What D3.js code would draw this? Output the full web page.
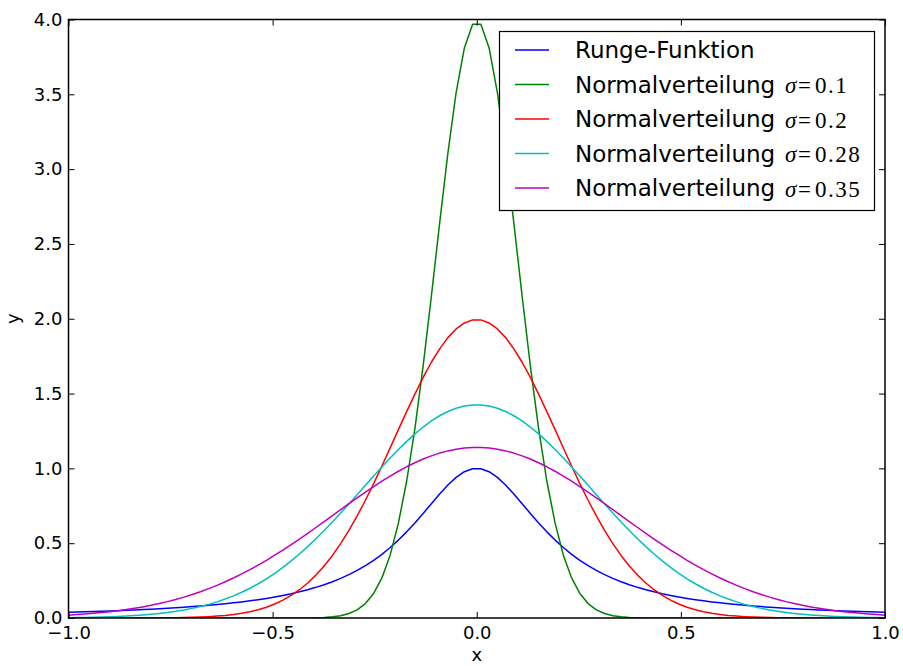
<!DOCTYPE html>
<html>
<head>
<meta charset="utf-8">
<script src="https://cdn.jsdelivr.net/npm/d3@7"></script>
<style>
  html, body { margin: 0; padding: 0; background: #fff; }
  svg { display: block; }
  text { font-family: "DejaVu Sans", sans-serif; fill: #000; }
</style>
</head>
<body>
<svg id="chart" width="903" height="666"></svg>
<script>
// Sampling grid: 100 evenly spaced points on [-1, 1]
const xs = d3.range(100).map(i => -1 + 2 * i / 99);

const runge = [
0.0385,0.0400,0.0416,0.0434,0.0452,0.0472,0.0492,0.0515,0.0538,0.0564,
0.0591,0.0620,0.0652,0.0685,0.0722,0.0761,0.0803,0.0849,0.0899,0.0953,
0.1012,0.1077,0.1147,0.1224,0.1309,0.1404,0.1508,0.1622,0.1749,0.1891,
0.2049,0.2227,0.2426,0.2647,0.2899,0.3183,0.3497,0.3857,0.4255,0.4710,
0.5208,0.5757,0.6353,0.6988,0.7640,0.8288,0.8889,0.9400,0.9776,0.9975,
0.9975,0.9776,0.9400,0.8889,0.8288,0.7640,0.6988,0.6353,0.5757,0.5208,
0.4710,0.4255,0.3857,0.3497,0.3183,0.2899,0.2647,0.2426,0.2227,0.2049,
0.1891,0.1749,0.1622,0.1508,0.1404,0.1309,0.1224,0.1147,0.1077,0.1012,
0.0953,0.0899,0.0849,0.0803,0.0761,0.0722,0.0685,0.0652,0.0620,0.0591,
0.0564,0.0538,0.0515,0.0492,0.0472,0.0452,0.0434,0.0416,0.0400,0.0385
];

const normal01 = [
0,0,0,0,0,0,0,0,0,0,
0,0,0,0,0,0,0,0,0,0,
0,0,0,0,0,0,0,0.0001,0.0003,0.0008,
0.0017,0.0037,0.0077,0.0154,0.0297,0.0547,0.0967,0.164,0.268,0.420,
0.634,0.914,1.266,1.685,2.152,2.639,3.107,3.512,3.810,3.969,
3.969,3.810,3.512,3.107,2.639,2.152,1.685,1.266,0.914,0.634,
0.420,0.268,0.164,0.0967,0.0547,0.0297,0.0154,0.0077,0.0037,0.0017,
0.0008,0.0003,0.0001,0,0,0,0,0,0,0,
0,0,0,0,0,0,0,0,0,0,
0,0,0,0,0,0,0,0,0,0
];

const normal02 = [
0,0,0,0,0.0001,0.0001,0.0001,0.0002,0.0003,0.0005,
0.0007,0.0010,0.0015,0.0022,0.0032,0.0046,0.0065,0.0091,0.0126,0.0173,
0.0235,0.0316,0.0421,0.0555,0.0723,0.0934,0.1193,0.1507,0.1889,0.2338,
0.2866,0.3480,0.4181,0.4975,0.5861,0.6826,0.7871,0.8984,1.0157,1.1366,
1.2593,1.3795,1.4962,1.6079,1.7093,1.7990,1.8738,1.9321,1.9720,1.9922,
1.9922,1.9720,1.9321,1.8738,1.7990,1.7093,1.6079,1.4962,1.3795,1.2593,
1.1366,1.0157,0.8984,0.7871,0.6826,0.5861,0.4975,0.4181,0.3480,0.2866,
0.2338,0.1889,0.1507,0.1193,0.0934,0.0723,0.0555,0.0421,0.0316,0.0235,
0.0173,0.0126,0.0091,0.0065,0.0046,0.0032,0.0022,0.0015,0.0010,0.0007,
0.0005,0.0003,0.0002,0.0001,0.0001,0.0001,0,0,0,0
];

const normal028 = [
0.0024,0.0031,0.0040,0.0051,0.0065,0.0082,0.0103,0.0129,0.0161,0.0199,
0.0245,0.0300,0.0366,0.0444,0.0536,0.0643,0.0767,0.0911,0.1076,0.1265,
0.1479,0.1720,0.1989,0.2290,0.2622,0.2988,0.3385,0.3814,0.4279,0.4772,
0.5295,0.5845,0.6420,0.7014,0.7627,0.8244,0.8865,0.9485,1.0096,1.0693,
1.1267,1.1805,1.2305,1.2763,1.3168,1.3517,1.3801,1.4019,1.4165,1.4239,
1.4239,1.4165,1.4019,1.3801,1.3517,1.3168,1.2763,1.2305,1.1805,1.1267,
1.0693,1.0096,0.9485,0.8865,0.8244,0.7627,0.7014,0.6420,0.5845,0.5295,
0.4772,0.4279,0.3814,0.3385,0.2988,0.2622,0.2290,0.1989,0.1720,0.1479,
0.1265,0.1076,0.0911,0.0767,0.0643,0.0536,0.0444,0.0366,0.0300,0.0245,
0.0199,0.0161,0.0129,0.0103,0.0082,0.0065,0.0051,0.0040,0.0031,0.0024
];

const normal035 = [
0.0192,0.0227,0.0266,0.0311,0.0362,0.0421,0.0488,0.0562,0.0647,0.0742,
0.0847,0.0965,0.1095,0.1239,0.1397,0.1569,0.1757,0.1962,0.2183,0.2420,
0.2674,0.2947,0.3234,0.3538,0.3858,0.4195,0.4544,0.4905,0.5279,0.5660,
0.6049,0.6444,0.6843,0.7242,0.7640,0.8030,0.8413,0.8785,0.9144,0.9486,
0.9808,1.0106,1.0377,1.0623,1.0837,1.1021,1.1168,1.1281,1.1355,1.1393,
1.1393,1.1355,1.1281,1.1168,1.1021,1.0837,1.0623,1.0377,1.0106,0.9808,
0.9486,0.9144,0.8785,0.8413,0.8030,0.7640,0.7242,0.6843,0.6444,0.6049,
0.5660,0.5279,0.4905,0.4544,0.4195,0.3858,0.3538,0.3234,0.2947,0.2674,
0.2420,0.2183,0.1962,0.1757,0.1569,0.1397,0.1239,0.1095,0.0965,0.0847,
0.0742,0.0647,0.0562,0.0488,0.0421,0.0362,0.0311,0.0266,0.0227,0.0192
];

const seriesNames = ["Runge-Funktion", "Normalverteilung", "Normalverteilung", "Normalverteilung", "Normalverteilung"];
const seriesSigma = [null, "0.1", "0.2", "0.28", "0.35"];
const seriesValues = [runge, normal01, normal02, normal028, normal035];
const seriesColors = ["#0000ff", "#008000", "#ff0000", "#00bfbf", "#bf00bf"];

const xTicks = [-1.0, -0.5, 0.0, 0.5, 1.0];
const yTicks = [0.0, 0.5, 1.0, 1.5, 2.0, 2.5, 3.0, 3.5, 4.0];

(function draw() {
  const svg = d3.select("#chart");
  const pLeft = 68.5, pRight = 885, pTop = 19.5, pBottom = 618;

  const x = d3.scaleLinear().domain([-1, 1]).range([pLeft, pRight]);
  const y = d3.scaleLinear().domain([0, 4]).range([pBottom, pTop]);

  const fmt = v => d3.format(".1f")(v).replace("-", "\u2212");

  // Clip the curves to the axes rectangle
  svg.append("defs").append("clipPath").attr("id", "plot-clip")
    .append("rect").attr("x", pLeft).attr("y", pTop)
    .attr("width", pRight - pLeft).attr("height", pBottom - pTop);

  const line = d3.line().x((d, i) => x(xs[i])).y(d => y(d));

  const curves = svg.append("g").attr("clip-path", "url(#plot-clip)");
  seriesValues.forEach((vals, k) => {
    curves.append("path")
      .datum(vals)
      .attr("d", line)
      .attr("fill", "none")
      .attr("stroke", seriesColors[k])
      .attr("stroke-width", 1.5)
      .attr("stroke-linejoin", "round");
  });

  // Axes: inward ticks on all four sides, labels on bottom and left only
  const tickLen = 6;
  const bottomAxis = d3.axisBottom(x).tickValues(xTicks).tickSizeInner(-tickLen).tickSizeOuter(0).tickPadding(8).tickFormat(fmt);
  const topAxis = d3.axisTop(x).tickValues(xTicks).tickSizeInner(-tickLen).tickSizeOuter(0).tickFormat("");
  const leftAxis = d3.axisLeft(y).tickValues(yTicks).tickSizeInner(-tickLen).tickSizeOuter(0).tickPadding(6).tickFormat(fmt);
  const rightAxis = d3.axisRight(y).tickValues(yTicks).tickSizeInner(-tickLen).tickSizeOuter(0).tickFormat("");

  function styleAxis(g) {
    g.select(".domain").remove();
    g.selectAll(".tick line").attr("stroke", "#000").attr("stroke-width", 1);
    g.selectAll(".tick text").style("font-family", "DejaVu Sans").style("font-size", "18px").attr("fill", "#000");
  }

  svg.append("g").attr("transform", `translate(0,${pBottom})`).call(bottomAxis).call(styleAxis);
  svg.append("g").attr("transform", `translate(0,${pTop})`).call(topAxis).call(styleAxis);
  svg.append("g").attr("transform", `translate(${pLeft},0)`).call(leftAxis).call(styleAxis);
  svg.append("g").attr("transform", `translate(${pRight},0)`).call(rightAxis).call(styleAxis);

  // Frame
  svg.append("rect")
    .attr("x", pLeft).attr("y", pTop)
    .attr("width", pRight - pLeft).attr("height", pBottom - pTop)
    .attr("fill", "none").attr("stroke", "#000").attr("stroke-width", 1.5);

  // Axis titles
  svg.append("text").attr("x", (pLeft + pRight) / 2).attr("y", 661)
    .attr("text-anchor", "middle").style("font-size", "18px").text("x");
  svg.append("text").attr("transform", `translate(19,${(pTop + pBottom) / 2}) rotate(-90)`)
    .attr("text-anchor", "middle").style("font-size", "18px").text("y");

  // Legend
  const legend = svg.append("g");
  legend.append("rect")
    .attr("x", 499.5).attr("y", 31.5).attr("width", 375).attr("height", 179)
    .attr("fill", "#fff").attr("stroke", "#000").attr("stroke-width", 1.2);

  const rowY = [50, 84.5, 119, 153.5, 188];
  const mathFont = "'Liberation Serif', 'Times New Roman', serif";
  seriesNames.forEach((name, k) => {
    const yy = rowY[k];
    legend.append("line")
      .attr("x1", 515).attr("x2", 549).attr("y1", yy).attr("y2", yy)
      .attr("stroke", seriesColors[k]).attr("stroke-width", 1.5);
    legend.append("text")
      .attr("x", 575).attr("y", yy + 8)
      .style("font-size", "23px")
      .text(name);
    if (seriesSigma[k]) {
      const t = legend.append("text").attr("y", yy + 8.5)
        .style("font-family", mathFont).style("font-size", "23px");
      t.append("tspan").attr("x", 785).style("font-style", "italic").text("\u03c3");
      t.append("tspan").attr("x", 798).text("=");
      t.append("tspan").attr("x", 815).style("letter-spacing", "1.5px").text(seriesSigma[k]);
    }
  });
})();
</script>
</body>
</html>
